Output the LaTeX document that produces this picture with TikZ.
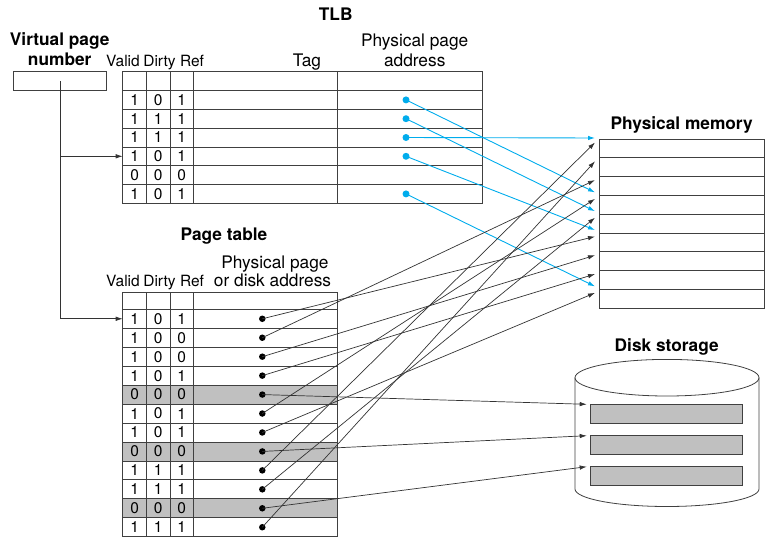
\documentclass[tikz,border=0pt]{standalone}
\usepackage{fontspec}
\setmainfont{TeX Gyre Heros}
\usetikzlibrary{arrows.meta}

\definecolor{azultlb}{RGB}{0,172,236}
\definecolor{gris}{RGB}{192,192,192}

\tikzset{
  fila/.style={draw=black!75, line width=0.8pt, inner sep=0pt, outer sep=0pt},
  linea/.style={draw=black!75, line width=0.8pt},
  bit/.style={font=\fontsize{15.5}{15.5}\selectfont, inner sep=0pt},
  cabecera/.style={font=\fontsize{17.3}{17.3}\selectfont, inner sep=0pt, anchor=base},
  columna/.style={font=\fontsize{15.5}{15.5}\selectfont, inner sep=0pt, anchor=base},
  titulo/.style={font=\bfseries\fontsize{17.3}{17.3}\selectfont, inner sep=0pt, anchor=base},
  flecha/.style={draw=black!80, line width=0.7pt, -{Latex[length=7pt,width=4.5pt]}},
  flechatlb/.style={draw=azultlb, line width=0.9pt, -{Latex[length=7pt,width=4.5pt]}},
  puntonegro/.style={circle, fill=black, inner sep=0pt, minimum size=6.5pt},
  puntoazul/.style={circle, fill=azultlb, inner sep=0pt, minimum size=7pt}
}

\begin{document}
\begin{tikzpicture}[x=1pt,y=-1pt]
    \useasboundingbox (0,0) rectangle (779,541);
    % Numero de pagina virtual
    \node[titulo] (vpntxta) at (59.7,45.3) {Virtual page};
    \node[titulo] (vpntxtb) at (59.7,65) {number};
    \node[fila, minimum width=93.4pt, minimum height=19pt] (vpn) at (60,81.2) {};
    % TLB
    \node[titulo] (tlbtxt) at (335.7,20) {TLB};
    \node[columna] (tlbvalid) at (123,66.5) {Valid};
    \node[columna] (tlbdirty) at (159.5,66.5) {Dirty};
    \node[columna] (tlbref) at (192,66.5) {Ref};
    \node[cabecera] (tlbtag) at (307,66.5) {Tag};
    \node[cabecera] (tlbppa) at (414.7,46.7) {Physical page};
    \node[cabecera] (tlbppb) at (414.7,66.5) {address};
    \foreach \i in {0,...,6}
        \node[fila, minimum width=359.6pt, minimum height=18.8pt, anchor=north west] (tlb\i) at (122.7,{71.7+18.8*\i}) {};
    \foreach \x in {146.7,170,193.3,337.7}
        \draw[linea] (\x,71.7) -- (\x,203.3);
    \foreach \i/\v/\d/\r in {1/1/0/1, 2/1/1/1, 3/1/1/1, 4/1/0/1, 5/0/0/0, 6/1/0/1} {
        \node[bit] (tlbv\i) at ([xshift=12pt]tlb\i.west) {\v};
        \node[bit] (tlbd\i) at ([xshift=35.6pt]tlb\i.west) {\d};
        \node[bit] (tlbr\i) at ([xshift=59pt]tlb\i.west) {\r};
    }
    \foreach \i in {1,2,3,4,6}
        \node[puntoazul] (tlbp\i) at ([xshift=283.3pt]tlb\i.west) {};
    % Tabla de paginas
    \node[titulo] (pttxt) at (224,240.5) {Page table};
    \node[columna] (ptvalid) at (123,286.7) {Valid};
    \node[columna] (ptdirty) at (159.5,286.7) {Dirty};
    \node[columna] (ptref) at (192,286.7) {Ref};
    \node[cabecera] (ptppa) at (275,268.3) {Physical page};
    \node[cabecera] (ptppb) at (272.5,286.7) {or disk address};
    \node[fila, minimum width=215pt, minimum height=16.6pt, anchor=north west] (pt0) at (122.7,292.7) {};
    \foreach \i/\v/\d/\r/\f in {1/1/0/1/white, 2/1/0/0/white, 3/1/0/0/white, 4/1/0/1/white,
                                5/0/0/0/gris, 6/1/0/1/white, 7/1/0/1/white, 8/0/0/0/gris,
                                9/1/1/1/white, 10/1/1/1/white, 11/0/0/0/gris, 12/1/1/1/white} {
        \node[fila, fill=\f, minimum width=215pt, minimum height=18.95pt, anchor=north west] (pt\i) at (122.7,{309.3+18.95*(\i-1)}) {};
        \node[bit] (ptv\i) at ([xshift=12pt]pt\i.west) {\v};
        \node[bit] (ptd\i) at ([xshift=35.6pt]pt\i.west) {\d};
        \node[bit] (ptr\i) at ([xshift=59pt]pt\i.west) {\r};
        \node[puntonegro] (ptp\i) at ([xshift=139.6pt]pt\i.west) {};
    }
    \foreach \x in {146.7,170,193.3}
        \draw[linea] (\x,292.7) -- (\x,536.7);
    % Memoria fisica
    \node[titulo] (pmtxt) at (681.7,129.3) {Physical memory};
    \foreach \j in {0,...,8}
        \node[fila, minimum width=165pt, minimum height=18.8pt, anchor=north west] (pm\j) at (599,{139+18.8*\j}) {};
    % Disco
    \node[titulo] (disktxt) at (666.7,351.7) {Disk storage};
    \draw[linea] (575,377.7) -- (575,489) arc[start angle=180, end angle=360, x radius=92pt, y radius=17.5pt] -- (759,377.7);
    \draw[linea] (667,377.7) ellipse [x radius=92pt, y radius=18.3pt];
    \foreach \k/\y in {1/404.3, 2/435.7, 3/466.7}
        \node[fila, fill=gris, minimum width=151.6pt, minimum height=19pt, anchor=north west] (disk\k) at (590.7,\y) {};
    % Flechas desde el numero de pagina virtual
    \draw[flecha] (vpn.center) |- (tlb4.west);
    \draw[flecha] (vpn.center) |- (pt1.west);
    % Punteros del TLB
    \foreach \i/\j/\dy in {1/3/3, 2/4/3, 3/0/1, 4/5/3, 6/8/3}
        \draw[flechatlb] (tlbp\i.center) -- ([xshift=-4pt,yshift=\dy pt]pm\j.north west);
    % Punteros de la tabla de paginas
    \foreach \i/\j in {1/5, 2/2, 3/6, 4/7, 6/3, 7/8, 9/0, 10/4, 12/1}
        \draw[flecha] (ptp\i.center) -- ([xshift=-4pt,yshift=-3.5pt]pm\j.north west);
    \foreach \i/\k in {5/1, 8/2, 11/3}
        \draw[flecha] (ptp\i.center) -- ([xshift=-4pt]disk\k.north west);
\end{tikzpicture}
\end{document}
